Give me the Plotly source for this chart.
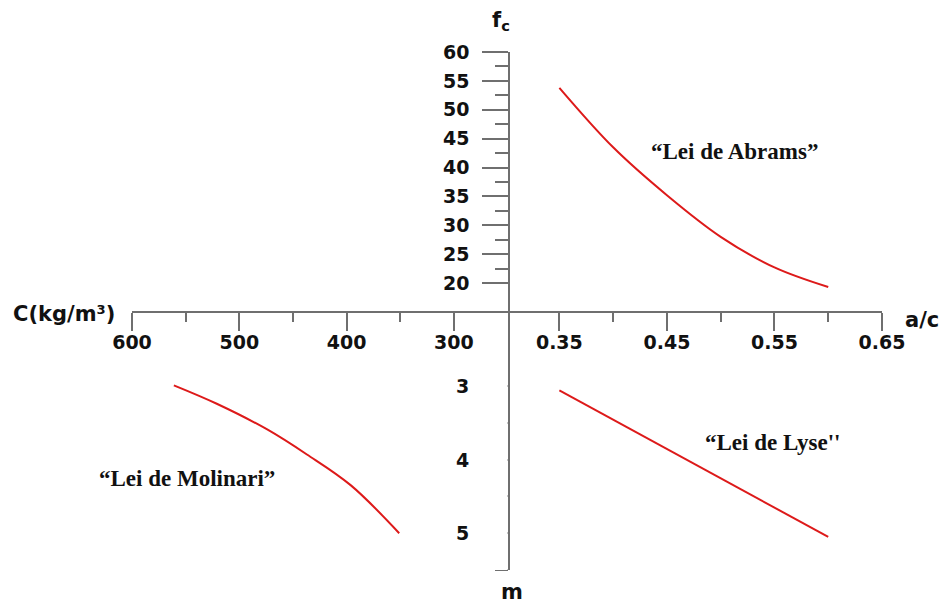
import plotly.graph_objects as go

# ---- data ----
abrams_ac = [0.35, 0.40, 0.45, 0.50, 0.55, 0.60]
abrams_fc = [53.8, 43.5, 35.2, 28.0, 22.7, 19.3]

lyse_ac = [0.35, 0.60]
lyse_m = [3.06, 5.05]

molinari_c = [561, 521, 474, 437, 396, 351]
molinari_m = [2.99, 3.24, 3.59, 3.93, 4.35, 5.00]

ac_major = [0.35, 0.45, 0.55, 0.65]
ac_minor = [0.40, 0.50, 0.60]
c_major = [600, 500, 400, 300]
c_minor = [550, 450, 350]
fc_major = [20, 25, 30, 35, 40, 45, 50, 55, 60]
fc_minor = [22.5, 27.5, 32.5, 37.5, 42.5, 47.5, 52.5, 57.5]
m_major = [3, 4, 5]
m_minor = [3.5, 4.5, 5.5]

# ---- layout geometry (page has an 8px body margin) ----
OFF = 8
W, H = 947 - OFF, 605 - OFF
ML, MR, MT, MB = 132 - OFF, 65, 52 - OFF, 35
PW, PH = W - ML - MR, H - MT - MB


def px(x):
    return (x - OFF - ML) / PW


def py(y):
    return (OFF + H - MB - y) / PH


AX_COL = "#6f6f6f"
RED = "#dd1a1a"
TICKFONT = dict(family="DejaVu Sans", size=19, color="#111", weight="bold")

fig = go.Figure()
fig.add_trace(go.Scatter(x=abrams_ac, y=abrams_fc, mode="lines", line=dict(color=RED, width=2, shape="spline"),
                         xaxis="x", yaxis="y", showlegend=False, hoverinfo="skip"))
fig.add_trace(go.Scatter(x=lyse_ac, y=lyse_m, mode="lines", line=dict(color=RED, width=2),
                         xaxis="x", yaxis="y2", showlegend=False, hoverinfo="skip"))
fig.add_trace(go.Scatter(x=molinari_c, y=molinari_m, mode="lines", line=dict(color=RED, width=2, shape="spline"),
                         xaxis="x2", yaxis="y2", showlegend=False, hoverinfo="skip"))

xpos = py(312)
ypos = px(509)

common = dict(showgrid=False, zeroline=False, showline=True, linecolor=AX_COL, linewidth=1.5,
              ticks="outside", tickcolor=AX_COL, tickwidth=1.5, tickfont=TICKFONT, anchor="free",
              fixedrange=True)

fig.update_layout(
    width=W, height=H,
    margin=dict(l=ML, r=MR, t=MT, b=MB),
    paper_bgcolor="white", plot_bgcolor="white",
    xaxis=dict(**common, domain=[px(505.6), 1.0], range=[0.30, 0.65], position=xpos, side="bottom",
               tickvals=ac_major, ticktext=[f"{v:.2f}" for v in ac_major], ticklen=18,
               minor=dict(tickvals=ac_minor, ticklen=9, ticks="outside", tickcolor=AX_COL, tickwidth=1.5),
               ticklabelstandoff=-5),
    xaxis2=dict(**common, domain=[0.0, px(507.6)], range=[600, 250], position=xpos, side="bottom",
                tickvals=c_major, ticktext=[str(v) for v in c_major], ticklen=18,
                minor=dict(tickvals=c_minor, ticklen=9, ticks="outside", tickcolor=AX_COL, tickwidth=1.5),
                ticklabelstandoff=-5),
    yaxis=dict(**common, domain=[py(311.9), 1.0], range=[15, 60], position=ypos, side="left",
               tickvals=fc_major, ticktext=[str(v) for v in fc_major], ticklen=26,
               minor=dict(tickvals=fc_minor, ticklen=13, ticks="outside", tickcolor=AX_COL, tickwidth=1.5),
               ticklabelstandoff=9),
    yaxis2=dict(**common, domain=[0.0, py(312.5)], range=[5.5, 2], position=ypos, side="left",
                tickvals=m_major, showticklabels=False, ticklen=26,
                minor=dict(tickvals=m_minor, ticklen=13, ticks="outside", tickcolor=AX_COL, tickwidth=1.5)),
)

# m-axis tick labels placed on the y2 scale
for v in m_major:
    fig.add_annotation(text=str(v), x=px(471), xref="paper", y=v, yref="y2", showarrow=False,
                       xanchor="right", yanchor="middle", font=TICKFONT)

LAWFONT = dict(family="Liberation Serif", size=23, color="#111", weight="bold")
AXFONT = dict(family="DejaVu Sans", size=21, color="#111", weight="bold")

annos = [
    ("\u201cLei de Abrams\u201d", 734, 152, LAWFONT),
    ("\u201cLei de Lyse''", 772, 442, LAWFONT),
    ("\u201cLei de Molinari\u201d", 187, 478, LAWFONT),
    ("C(kg/m\u00b3)", 64, 314, AXFONT),
    ("a/c", 922, 320, AXFONT),
    ("m", 512, 592, AXFONT),
    ("f<sub>c</sub>", 501, 21, AXFONT),
]
for text, x, y, font in annos:
    fig.add_annotation(text=text, x=px(x), y=py(y), xref="paper", yref="paper",
                       showarrow=False, xanchor="center", yanchor="middle", font=font)

fig.write_html("out.html")
